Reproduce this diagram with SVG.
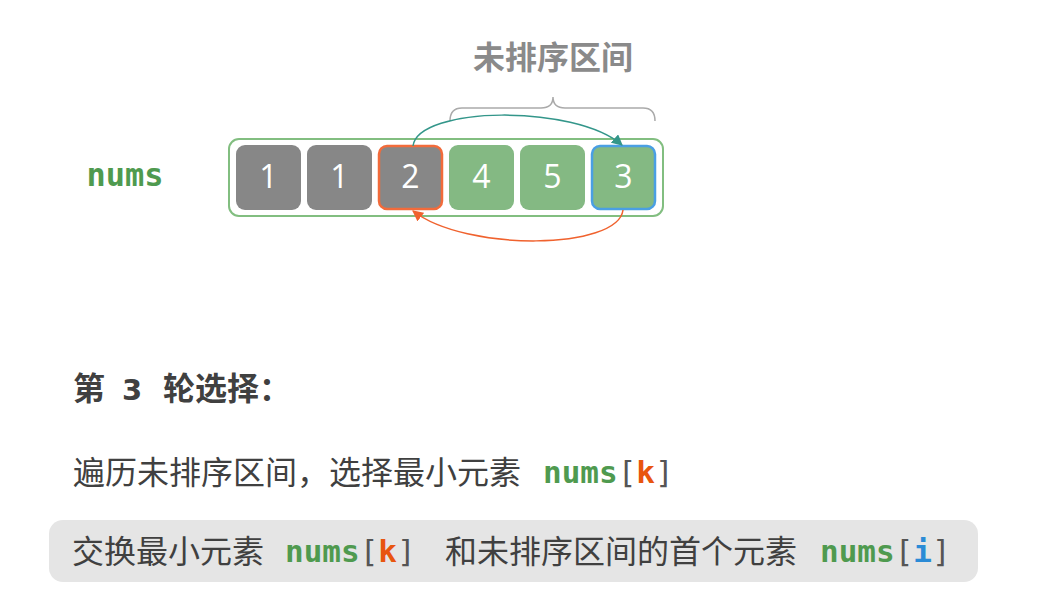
<svg xmlns="http://www.w3.org/2000/svg" width="1039" height="614" viewBox="0 0 1039 614">
<style>
.cell{stroke:none}
.gray{fill:#878787}
.green{fill:#84b983}
.num{font-family:"Open Sans","DejaVu Sans",sans-serif;font-size:32px;fill:#ffffff;text-anchor:middle}
.cjk{font-family:"Noto Sans CJK SC",sans-serif;font-size:32px;fill:#404040}
.mono{font-family:"DejaVu Sans Mono","Liberation Mono",monospace;font-size:31px}
.var{fill:#4f9a4f;font-weight:bold}
.brk{fill:#555555;font-weight:normal}
</style>
<defs>
<marker id="ah-teal" viewBox="0 0 10 10" refX="9" refY="5" markerWidth="11" markerHeight="11" markerUnits="userSpaceOnUse" orient="auto">
<path d="M0,0 L10,5 L0,10 z" fill="#33968a"/>
</marker>
<marker id="ah-orange" viewBox="0 0 10 10" refX="9" refY="5" markerWidth="11" markerHeight="11" markerUnits="userSpaceOnUse" orient="auto">
<path d="M0,0 L10,5 L0,10 z" fill="#f0622e"/>
</marker>
</defs>
<rect width="1039" height="614" fill="#ffffff"/>

<g id="label-unsorted">
<text x="553" y="69" text-anchor="middle" font-family="Noto Sans CJK SC,sans-serif" font-size="32" font-weight="bold" fill="#8a8a8a">未排序区间</text>
<path d="M450,121 Q450,108 462,108 L541,108 Q553,108 553,97 Q553,108 565,108 L643,108 Q655,108 655,121" fill="none" stroke="#aaaaaa" stroke-width="1.5"/>
</g>

<g id="label-nums">
<text x="125" y="186" text-anchor="middle" font-family="DejaVu Sans Mono,monospace" font-size="32" font-weight="bold" fill="#4f9a4f">nums</text>
</g>

<g id="array">
<rect x="229" y="139" width="434" height="77" rx="10" fill="#ffffff" stroke="#82be80" stroke-width="2"/>
</g>
<g id="cell0"><rect class="cell gray" x="236" y="145" width="65" height="65" rx="9"/><text class="num" x="268.5" y="188">1</text></g>
<g id="cell1"><rect class="cell gray" x="307" y="145" width="65" height="65" rx="9"/><text class="num" x="339.5" y="188">1</text></g>
<g id="cell2"><rect class="gray" x="379" y="146" width="63" height="63" rx="8" stroke="#f26b3b" stroke-width="2.5"/><text class="num" x="410.5" y="188">2</text></g>
<g id="cell3"><rect class="cell green" x="449" y="145" width="65" height="65" rx="9"/><text class="num" x="481.5" y="188">4</text></g>
<g id="cell4"><rect class="cell green" x="520" y="145" width="65" height="65" rx="9"/><text class="num" x="552.5" y="188">5</text></g>
<g id="cell5"><rect class="green" x="592" y="146" width="63" height="63" rx="8" stroke="#4a9fe3" stroke-width="2.5"/><text class="num" x="623.5" y="188">3</text></g>

<g id="connectors">
<path d="M413,146 C418,106 575,104 622,145" fill="none" stroke="#33968a" stroke-width="1.5" marker-end="url(#ah-teal)"/>
<path d="M623,210 C618,250 466,252 413,211" fill="none" stroke="#f0622e" stroke-width="1.5" marker-end="url(#ah-orange)"/>
</g>

<g id="step-title">
<text class="cjk" x="73" y="400" font-size="31" font-weight="bold" fill="#383838"><tspan x="73">第</tspan><tspan x="122" font-family="DejaVu Sans,sans-serif" font-size="29">3</tspan><tspan x="163">轮选择：</tspan></text>
</g>

<g id="step-line1">
<text class="cjk" x="73" y="484">遍历未排序区间，选择最小元素</text>
<text class="mono" x="543" y="483"><tspan class="var">nums</tspan><tspan class="brk">[</tspan><tspan font-weight="bold" fill="#e8550f">k</tspan><tspan class="brk">]</tspan></text>
</g>

<g id="step-line2">
<rect x="49" y="520" width="929" height="62" rx="14" fill="#e5e5e5"/>
<text class="cjk" x="72" y="563">交换最小元素</text>
<text class="mono" x="285" y="562"><tspan class="var">nums</tspan><tspan class="brk">[</tspan><tspan font-weight="bold" fill="#e8550f">k</tspan><tspan class="brk">]</tspan></text>
<text class="cjk" x="445" y="563">和未排序区间的首个元素</text>
<text class="mono" x="820" y="562"><tspan class="var">nums</tspan><tspan class="brk">[</tspan><tspan font-weight="bold" fill="#2b8bd6">i</tspan><tspan class="brk">]</tspan></text>
</g>
</svg>
